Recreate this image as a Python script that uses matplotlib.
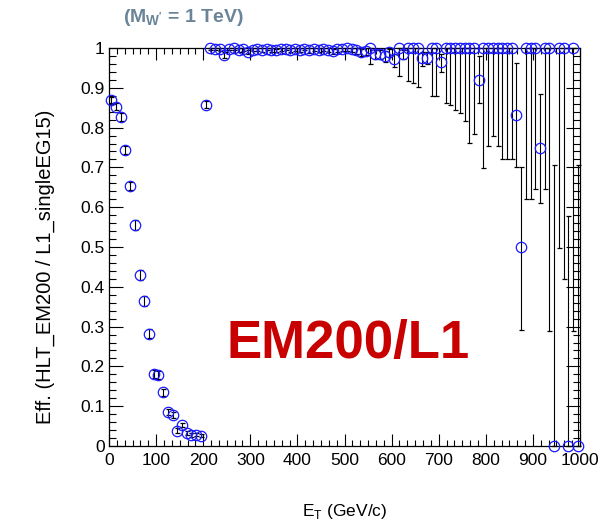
import numpy as np
import matplotlib.pyplot as plt
from matplotlib.ticker import MultipleLocator, AutoMinorLocator, FuncFormatter

plt.rcParams['font.family'] = ['Liberation Sans', 'DejaVu Sans']
plt.rcParams['mathtext.fontset'] = 'custom'
plt.rcParams['mathtext.rm'] = 'Liberation Sans'
plt.rcParams['mathtext.bf'] = 'Liberation Sans:bold'

# E_T bin centres (10 GeV bins)
et = np.arange(5, 1000, 10)

# efficiency per bin
eff = [
    0.870, 0.852, 0.826, 0.744, 0.653, 0.555, 0.430, 0.364, 0.282, 0.180,
    0.179, 0.135, 0.085, 0.078, 0.038, 0.053, 0.033, 0.028, 0.028, 0.026,
    0.857, 1.000, 0.998, 0.997, 0.983, 0.998, 1.000, 0.995, 0.997, 0.990,
    0.996, 0.997, 0.995, 0.998, 0.996, 0.994, 0.997, 0.998, 0.996, 0.997,
    0.995, 0.998, 0.994, 0.997, 0.996, 0.998, 0.996, 0.993, 0.997, 0.998,
    1.000, 0.997, 0.995, 0.990, 0.993, 1.000, 0.985, 0.985, 0.980, 0.990,
    0.973, 1.000, 0.985, 1.000, 1.000, 1.000, 0.974, 0.974, 1.000, 1.000,
    0.964, 1.000, 1.000, 1.000, 1.000, 1.000, 1.000, 1.000, 0.919, 1.000,
    1.000, 1.000, 1.000, 1.000, 1.000, 1.000, 0.832, 0.500, 1.000, 1.000,
    1.000, 0.750, 1.000, 1.000, 0.000, 1.000, 1.000, 0.000, 1.000, 0.000,
]

# asymmetric errors (down / up)
err_lo = [
    0.008, 0.009, 0.010, 0.010, 0.011, 0.012, 0.012, 0.012, 0.011, 0.010,
    0.010, 0.009, 0.008, 0.007, 0.006, 0.006, 0.005, 0.005, 0.004, 0.004,
    0.009, 0.004, 0.004, 0.004, 0.008, 0.004, 0.005, 0.005, 0.004, 0.006,
    0.004, 0.004, 0.005, 0.004, 0.005, 0.005, 0.004, 0.004, 0.005, 0.005,
    0.005, 0.004, 0.006, 0.005, 0.005, 0.005, 0.006, 0.007, 0.006, 0.006,
    0.008, 0.008, 0.009, 0.010, 0.010, 0.040, 0.012, 0.013, 0.015, 0.012,
    0.020, 0.070, 0.012, 0.084, 0.088, 0.098, 0.020, 0.015, 0.120, 0.120,
    0.025, 0.138, 0.143, 0.157, 0.163, 0.183, 0.238, 0.216, 0.057, 0.302,
    0.245, 0.220, 0.245, 0.280, 0.280, 0.280, 0.132, 0.208, 0.380, 0.380,
    0.355, 0.140, 0.355, 0.710, 0.000, 0.502, 0.580, 0.000, 0.710, 0.000,
]
err_hi = [
    0.008, 0.009, 0.010, 0.010, 0.011, 0.012, 0.012, 0.012, 0.011, 0.010,
    0.010, 0.009, 0.008, 0.007, 0.006, 0.006, 0.005, 0.005, 0.004, 0.004,
    0.009, 0.000, 0.002, 0.003, 0.008, 0.002, 0.000, 0.004, 0.003, 0.006,
    0.003, 0.003, 0.004, 0.002, 0.003, 0.004, 0.003, 0.002, 0.003, 0.003,
    0.004, 0.002, 0.005, 0.003, 0.003, 0.002, 0.003, 0.005, 0.003, 0.002,
    0.000, 0.003, 0.005, 0.007, 0.006, 0.000, 0.010, 0.010, 0.012, 0.008,
    0.012, 0.000, 0.010, 0.000, 0.000, 0.000, 0.015, 0.015, 0.000, 0.000,
    0.020, 0.000, 0.000, 0.000, 0.000, 0.000, 0.000, 0.000, 0.060, 0.000,
    0.000, 0.000, 0.000, 0.000, 0.000, 0.000, 0.130, 0.202, 0.000, 0.000,
    0.000, 0.135, 0.000, 0.000, 0.705, 0.000, 0.000, 0.578, 0.000, 0.705,
]

fig = plt.figure(figsize=(6.16, 5.25), dpi=100)
ax = fig.add_axes([109 / 616, 1 - 446 / 525, 471 / 616, 398 / 525])

ax.errorbar(et, eff, yerr=[err_lo, err_hi], fmt='o', ms=7.5, mfc='none',
            mec='#1a1aff', mew=0.9, ecolor='black', elinewidth=0.8,
            capsize=1.8, capthick=0.8, clip_on=False, zorder=3)

ax.set_xlim(0, 1000)
ax.set_ylim(0, 1)
ax.xaxis.set_major_locator(MultipleLocator(100))
ax.xaxis.set_minor_locator(AutoMinorLocator(6))
ax.yaxis.set_major_locator(MultipleLocator(0.1))
ax.yaxis.set_minor_locator(AutoMinorLocator(5))
ax.yaxis.set_major_formatter(FuncFormatter(lambda v, p: '%g' % round(v, 2)))

ax.tick_params(which='both', direction='in', top=True, right=True,
               width=0.8, labelsize=12.5)
ax.tick_params(axis='x', which='major', length=8.5, pad=5)
ax.tick_params(axis='x', which='minor', length=4.3)
ax.tick_params(axis='y', which='major', length=10, pad=3)
ax.tick_params(axis='y', which='minor', length=5)
for s in ax.spines.values():
    s.set_linewidth(0.9)

ax.set_xlabel(r'E$_{\mathrm{T}}$ (GeV/c)', fontsize=12.5)
ax.xaxis.set_label_coords(0.5, -0.14)
ax.set_ylabel('Eff. (HLT_EM200 / L1_singleEG15)', fontsize=14.5)
ax.yaxis.set_label_coords(-0.115, 0.45)

fig.text(123 / 616, 1 - 18 / 525, r"(M$_{\mathbf{W'}}$ = 1 TeV)",
         color='#6a8498', fontsize=14, fontweight='bold',
         ha='left', va='center')

fig.text(348 / 616, 1 - 344 / 525, 'EM200/L1', color='#c80000',
         fontsize=38, fontweight='bold', ha='center', va='center')

fig.savefig('out.png', dpi=100)
